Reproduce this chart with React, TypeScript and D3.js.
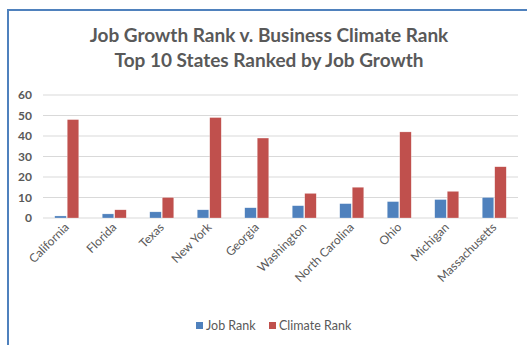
import React from "react";
import * as d3 from "d3";

const states = ["California", "Florida", "Texas", "New York", "Georgia", "Washington", "North Carolina", "Ohio", "Michigan", "Massachusetts"];
const jobRank = [1, 2, 3, 4, 5, 6, 7, 8, 9, 10];
const climateRank = [48, 4, 10, 49, 39, 12, 15, 42, 13, 25];
const yTicks = [0, 10, 20, 30, 40, 50, 60];
const seriesNames = ["Job Rank", "Climate Rank"];
const colors = ["#4F81BD", "#C0504D"];
const titleLines = ["Job Growth Rank v. Business Climate Rank", "Top 10 States Ranked by Job Growth"];

const W = 527, H = 345;
const FONT = "Lato, 'Open Sans', sans-serif";

export default function App() {
  const x0 = d3.scaleBand<string>().domain(states).range([43, 518]);
  const x1 = d3.scaleBand<string>().domain(seriesNames).range([0, 24]).paddingInner(0.08);
  const y = d3.scaleLinear().domain([0, 60]).range([218, 95]);
  const series = [jobRank, climateRank];
  const off = (x0.bandwidth() - 24) / 2;
  return (
    <svg width={W} height={H} style={{ position: "absolute", left: 0, top: 0, background: "#fff" }}>
      <rect x={0} y={0} width={W} height={H} fill="#fff" />
      <line x1={8} y1={10} x2={W} y2={10} stroke="#4F81BD" strokeWidth={2} />
      <line x1={8} y1={9} x2={8} y2={H} stroke="#4F81BD" strokeWidth={2} />
      {titleLines.map((t, i) => (
        <text key={t} x={269} y={42 + i * 25} textAnchor="middle" fontFamily={FONT} fontWeight="bold" fontSize={19} fill="#595959">{t}</text>
      ))}
      {yTicks.map((v) => (
        <g key={v}>
          <line x1={43} x2={518} y1={y(v)} y2={y(v)} stroke="#D9D9D9" strokeWidth={1} />
          <text x={32} y={y(v) + 4} textAnchor="end" fontFamily={FONT} fontWeight="bold" fontSize={12} fill="#595959">{v}</text>
        </g>
      ))}
      {states.map((s, i) => (
        <g key={s}>
          {series.map((vals, k) => (
            <rect key={k} x={(x0(s) as number) + off + (x1(seriesNames[k]) as number)} y={y(vals[i])} width={x1.bandwidth()} height={218 - y(vals[i])} fill={colors[k]} stroke="#fff" strokeOpacity={0.5} strokeWidth={0.5} />
          ))}
          <text transform={`translate(${(x0(s) as number) + x0.bandwidth() / 2 + 3},${228}) rotate(-45)`} textAnchor="end" fontFamily={FONT} fontSize={12} fill="#595959">{s}</text>
        </g>
      ))}
      {seriesNames.map((n, k) => {
        const lx = k === 0 ? 196 : 269;
        return (
          <g key={n}>
            <rect x={lx} y={322} width={7} height={7} fill={colors[k]} />
            <text x={lx + 10} y={330} fontFamily={FONT} fontSize={12.5} fill="#595959">{n}</text>
          </g>
        );
      })}
    </svg>
  );
}
